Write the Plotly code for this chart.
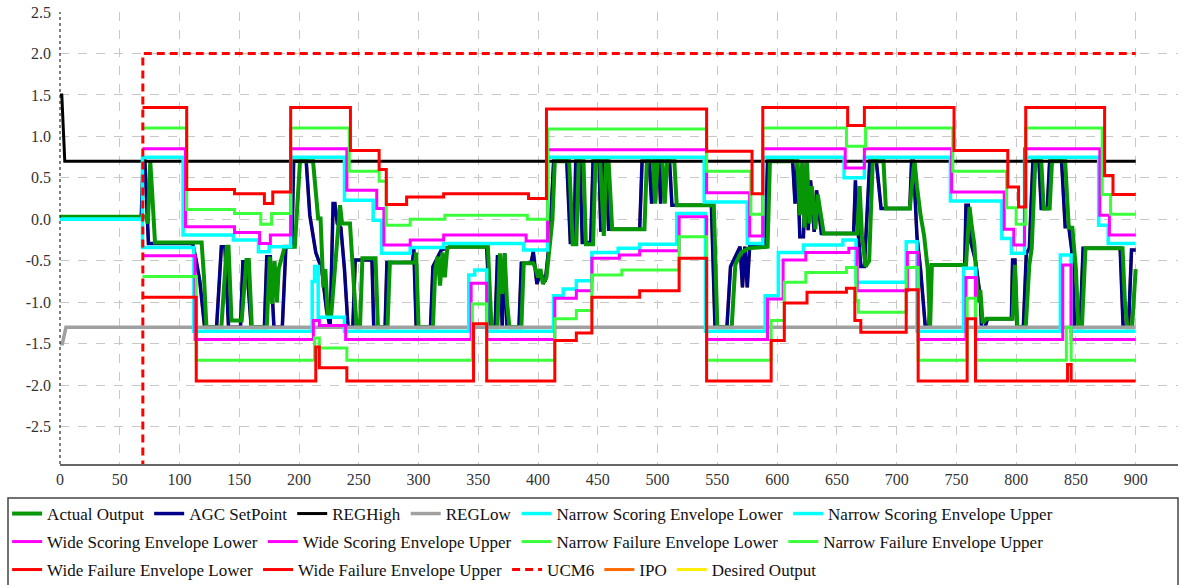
import plotly.graph_objects as go

# ---------------- data ----------------
X_TICKS = list(range(0, 901, 50))
Y_TICKS = [2.5, 2.0, 1.5, 1.0, 0.5, 0.0, -0.5, -1.0, -1.5, -2.0, -2.5]
Y_TICK_TEXT = ["2.5", "2.0", "1.5", "1.0", "0.5", "0.0", "-0.5", "-1.0", "-1.5", "-2.0", "-2.5"]

# AGC SetPoint
SP_X = [0, 68, 69.5, 71, 74, 111, 114, 117, 121, 131, 135, 138, 141, 151, 153, 156, 160, 171, 173, 176,
        179, 186, 189, 194, 195.5, 206, 209, 214, 219, 223, 226, 228.5, 230, 232, 235, 238, 241, 245, 247, 261,
        262.5, 272, 273.5, 295, 296, 298, 310, 312, 319, 326, 357, 360, 364, 366, 368, 370, 372, 374, 384, 386,
        394, 396, 399, 402, 406, 409, 411, 413, 424, 427, 430, 431.5, 435, 437, 444, 446, 451, 452.5, 454, 457,
        459, 485, 487, 493, 495, 497, 501, 502.5, 504, 510, 512, 545, 548, 558, 561, 569, 571, 573, 575, 577,
        590, 592, 613, 615, 617, 619, 622, 624.5, 626, 628, 631, 633, 637, 664, 665.5, 667, 670, 673, 677.5, 683,
        687, 711, 712.5, 714, 717, 720, 724, 727, 729, 757, 758, 760, 762, 766, 770, 771, 774, 776, 796, 797,
        799, 800.5, 806, 808.5, 811, 814, 819, 821, 826, 828, 838, 841, 844, 846.5, 849, 853.5, 856, 887, 889.5, 894,
        896.5, 900]
SP_Y = [0.03, 0.03, 0.70, 0.70, -0.29, -0.29, -0.50, -0.75, -1.30, -1.30, -0.33, -0.33, -1.30, -1.30, -0.51, -0.51, -1.30, -1.30, -0.45, -0.45,
        -1.30, -1.30, -0.33, -0.33, 0.70, 0.70, 0.05, -0.40, -0.60, -1.10, -1.30, 0.19, 0.19, -0.05, -0.10, -0.60, -1.30, -1.30, -0.49, -0.49,
        -1.30, -1.30, -0.52, -0.52, -0.35, -1.30, -1.30, -0.57, -0.37, -0.33, -0.33, -1.30, -1.30, -0.45, -0.45, -1.30, -0.41, -1.30, -1.30, -0.53,
        -0.53, -0.39, -0.78, -0.65, -0.75, -0.33, 0.11, 0.70, 0.70, -0.28, -0.28, 0.70, 0.70, -0.28, -0.28, 0.70, 0.70, -0.15, 0.70, 0.70,
        -0.12, -0.12, 0.70, 0.70, 0.19, 0.70, 0.70, 0.19, 0.70, 0.70, 0.17, 0.17, -1.30, -1.30, -0.57, -0.33, -0.82, -0.33, -0.82, -0.33,
        -0.33, 0.70, 0.70, 0.19, 0.70, -0.21, -0.21, 0.70, -0.13, 0.47, -0.15, 0.35, -0.17, -0.17, 0.47, -0.01, -0.57, -0.57, 0.70, 0.70,
        0.13, 0.13, 0.70, 0.70, -0.21, -0.60, -1.30, -1.30, -0.55, -0.55, 0.17, 0.17, -0.27, -0.50, -0.94, -1.30, -1.30, -1.20, -1.20, -0.49,
        -0.49, -1.30, -1.30, -0.41, -0.35, 0.70, 0.70, 0.13, 0.13, 0.70, 0.70, -0.09, -0.09, -0.37, -1.30, -1.30, -0.35, -0.35, -1.30, -1.30,
        -0.37, -0.37]

# Actual Output
AO_X = [0, 72, 73.5, 75.5, 77, 79.5, 118.5, 120.5, 122.5, 135, 139.5, 141, 143.5, 152, 156, 158, 160.5, 173, 175.5, 177.5,
        179.5, 181.5, 183, 188, 196.5, 200.8, 211.7, 216, 218, 220.3, 222, 224, 227, 234.3, 236, 242.6, 246, 248.2, 251, 253,
        264, 266, 274, 276, 297, 298, 300, 312, 314, 316, 318, 320, 322, 324, 327, 358, 361, 366, 368, 370,
        372, 374, 376, 386, 388, 396, 398, 400, 402, 404, 407, 412, 414, 426, 429, 432, 434, 438, 440, 446,
        448, 452, 455, 457, 459, 462, 489, 491, 496, 498, 500, 504, 506, 508, 514, 516, 547, 550, 562, 565,
        568, 570, 576, 592, 594, 617, 619, 621, 623, 625, 627, 629, 632, 634, 639, 667, 669, 671, 674, 677,
        680, 689, 691, 711, 714, 715, 717, 720, 723, 726, 728, 729.5, 758, 761, 763, 765, 768, 770, 772, 775,
        797, 799, 801, 808, 811, 813, 816, 821, 823, 828, 830, 841, 844, 847, 850, 852, 855, 858, 889, 891,
        893, 897, 900]
AO_Y = [0.03, 0.03, -0.05, 0.70, 0.35, -0.28, -0.28, -0.70, -1.30, -1.30, -0.33, -0.33, -1.22, -1.22, -0.49, -0.49, -1.30, -1.30, -0.45, -1.02,
        -0.50, -1.00, -0.60, -0.33, -0.33, 0.70, 0.70, 0.01, 0.01, -0.82, -0.60, -1.14, -1.14, 0.17, -0.05, -0.05, -0.82, -1.30, -1.30, -0.47,
        -0.47, -1.30, -1.30, -0.52, -0.52, -0.40, -1.30, -1.30, -0.60, -0.45, -0.80, -0.40, -0.70, -0.35, -0.33, -0.33, -1.30, -1.30, -0.41, -0.90,
        -0.41, -1.00, -1.30, -1.30, -0.53, -0.53, -0.60, -0.70, -0.60, -0.78, -0.70, 0.00, 0.70, 0.70, -0.30, -0.30, 0.70, 0.70, -0.30, -0.30,
        0.70, 0.70, -0.20, 0.70, 0.70, -0.12, -0.12, 0.70, 0.70, 0.19, 0.70, 0.70, 0.19, 0.70, 0.70, 0.17, 0.17, -1.30, -1.30, -0.55,
        -0.45, -0.40, -0.35, -0.33, 0.70, 0.70, 0.05, 0.70, -0.10, 0.70, -0.05, 0.40, -0.12, 0.30, -0.17, -0.17, 0.40, -0.20, -0.57, -0.50,
        0.70, 0.70, 0.13, 0.13, 0.60, 0.70, 0.40, 0.05, -0.20, -0.60, -1.30, -0.55, -0.55, 0.15, -0.10, -0.30, -1.00, -0.85, -1.25, -1.20,
        -1.20, -0.55, -1.30, -1.30, -0.55, -0.35, 0.70, 0.70, 0.13, 0.13, 0.70, 0.70, -0.10, -0.10, -0.60, -1.30, -1.30, -0.35, -0.35, -1.00,
        -1.30, -1.30, -0.60]

# Regulation limits
REGH_X = [0, 1.5, 4, 900]
REGH_Y = [1.5, 1.5, 0.7, 0.7]
REGL_X = [0, 2, 5, 900]
REGL_Y = [-1.5, -1.5, -1.3, -1.3]

# UCM6 (below the visible range before it steps up)
UCM_X = [0, 69.3, 69.3, 900]
UCM_Y = [-10.0, -10.0, 2.0, 2.0]

# Narrow scoring envelope (step starts)
NSU_X = [0, 69, 103, 145, 166, 175, 193, 238, 262, 269, 293, 321, 388, 408, 539, 575, 588, 656, 673, 745,
         788, 796, 807, 869, 877, 900]
NSU_Y = [0.00, 0.75, -0.19, -0.25, -0.39, -0.33, 0.75, 0.23, -0.01, -0.41, -0.34, -0.29, -0.37, 0.75, 0.21, -0.29, 0.75, 0.50, 0.75, 0.22,
         -0.23, -0.41, 0.75, -0.07, -0.29, -0.29]
NSL_X = [0, 69, 112, 211, 213, 216, 238, 342, 347, 357, 413, 421, 432, 445, 467, 485, 516, 540, 590, 601,
         622, 655, 666, 708, 717, 756, 766, 837, 846, 900]
NSL_Y = [0.00, -0.34, -1.35, -0.75, -0.57, -1.18, -1.35, -0.67, -0.61, -1.35, -0.92, -0.84, -0.74, -0.40, -0.35, -0.30, 0.07, -1.35, -0.92, -0.40,
         -0.31, -0.25, -0.76, -0.27, -1.35, -0.59, -1.35, -0.43, -1.35, -1.35]

# Wide scoring envelope
WSU_X = [69, 105, 146, 167, 176, 193, 240, 265, 271, 293, 321, 390, 408, 541, 577, 588, 657, 673, 746, 790,
         798, 807, 870, 878, 900]
WSU_Y = [0.85, -0.09, -0.16, -0.29, -0.19, 0.85, 0.35, 0.13, -0.31, -0.25, -0.19, -0.26, 0.84, 0.32, -0.20, 0.85, 0.62, 0.85, 0.33, -0.12,
         -0.31, 0.85, 0.05, -0.19, -0.19]
WSL_X = [69, 113, 212, 217, 239, 344, 357, 414, 432, 445, 468, 485, 518, 541, 592, 605, 624, 660, 667, 709,
         718, 758, 766, 839, 846, 900]
WSL_Y = [-0.44, -1.45, -1.22, -1.28, -1.45, -0.77, -1.45, -0.95, -0.86, -0.47, -0.43, -0.38, 0.03, -1.45, -0.96, -0.49, -0.40, -0.35, -0.86, -0.40,
         -1.45, -0.70, -1.45, -0.55, -1.45, -1.45]

# Narrow failure envelope
NFU_X = [69, 106, 146, 168, 177, 193, 242, 267, 273, 293, 322, 391, 408, 541, 578, 588, 658, 674, 747, 792,
         800, 808, 872, 879, 900]
NFU_Y = [1.10, 0.12, 0.07, -0.06, 0.07, 1.10, 0.58, 0.46, -0.07, 0.00, 0.05, 0.00, 1.09, 0.58, 0.06, 1.10, 0.88, 1.10, 0.58, 0.14,
         -0.06, 1.10, 0.30, 0.06, 0.06]
NFL_X = [69, 114, 213, 217, 240, 345, 357, 414, 432, 445, 470, 518, 541, 595, 606, 624, 658, 666, 668, 708,
         718, 759, 766, 842, 846, 900]
NFL_Y = [-0.69, -1.70, -1.43, -1.55, -1.70, -1.02, -1.70, -1.20, -1.10, -0.67, -0.61, -0.21, -1.70, -1.22, -0.76, -0.64, -0.58, -0.98, -1.12, -0.58,
         -1.70, -0.95, -1.70, -1.30, -1.70, -1.70]

# Wide failure envelope
WFU_X = [69, 106, 146, 171, 178, 193, 243, 267, 273, 290, 321, 392, 407, 541, 579, 588, 659, 673, 748, 793,
         802, 808, 874, 881, 900]
WFU_Y = [1.35, 0.36, 0.31, 0.19, 0.33, 1.35, 0.83, 0.60, 0.18, 0.27, 0.31, 0.25, 1.33, 0.82, 0.31, 1.35, 1.13, 1.35, 0.83, 0.39,
         0.15, 1.35, 0.53, 0.30, 0.30]
WFL_X = [69, 114, 214, 217, 240, 346, 357, 414, 432, 445, 485, 518, 541, 595, 606, 625, 658, 665, 670, 708,
         718, 759, 766, 843, 846, 900]
WFL_Y = [-0.94, -1.95, -1.54, -1.79, -1.95, -1.26, -1.95, -1.46, -1.37, -0.94, -0.86, -0.47, -1.95, -1.46, -1.01, -0.88, -0.83, -1.22, -1.36, -0.85,
         -1.95, -1.20, -1.95, -1.75, -1.95, -1.95]

# ---------------- figure ----------------
FONT = "Liberation Serif"
fig = go.Figure()


def add(name, x, y, color, width, legend, rank, shape="linear", dash="solid"):
    fig.add_trace(go.Scatter(
        x=x, y=y, name=name, mode="lines",
        line=dict(color=color, width=width, shape=shape, dash=dash),
        legend=legend, legendrank=rank, hoverinfo="skip",
    ))


# drawn underneath
add("Desired Output", SP_X, SP_Y, "#FFEE00", 3, "legend3", 15)
add("IPO", SP_X, SP_Y, "#FF6A00", 3, "legend3", 14)
add("AGC SetPoint", SP_X, SP_Y, "#00008B", 3.5, "legend", 2)
add("Actual Output", AO_X, AO_Y, "#069606", 4, "legend", 1)
add("REGHigh", REGH_X, REGH_Y, "#000000", 3, "legend", 3)
add("REGLow", REGL_X, REGL_Y, "#A0A0A0", 3.5, "legend", 4)
add("Narrow Scoring Envelope Lower", NSL_X, NSL_Y, "#00FFFF", 3.5, "legend", 5, "hv")
add("Narrow Scoring Envelope Upper", NSU_X, NSU_Y, "#00FFFF", 3.5, "legend", 6, "hv")
add("Wide Scoring Envelope Lower", WSL_X, WSL_Y, "#FF00FF", 3, "legend2", 7, "hv")
add("Wide Scoring Envelope Upper", WSU_X, WSU_Y, "#FF00FF", 3, "legend2", 8, "hv")
add("Narrow Failure Envelope Lower", NFL_X, NFL_Y, "#3CFF3C", 3, "legend2", 9, "hv")
add("Narrow Failure Envelope Upper", NFU_X, NFU_Y, "#3CFF3C", 3, "legend2", 10, "hv")
add("Wide Failure Envelope Lower", WFL_X, WFL_Y, "#FF0000", 3, "legend3", 11, "hv")
add("Wide Failure Envelope Upper", WFU_X, WFU_Y, "#FF0000", 3, "legend3", 12, "hv")
add("UCM6", UCM_X, UCM_Y, "#FF0000", 3, "legend3", 13, "linear", "8px,5px")

leg_common = dict(orientation="h", xref="container", yref="container",
                  xanchor="left", yanchor="middle", x=0.006,
                  bgcolor="rgba(0,0,0,0)", borderwidth=0,
                  font=dict(family=FONT, size=17, color="#111111"),
                  traceorder="normal")

fig.update_layout(
    width=1184, height=585,
    margin=dict(l=60, r=6, t=12, b=121, autoexpand=False),
    paper_bgcolor="white", plot_bgcolor="white",
    font=dict(family=FONT, size=16, color="#333333"),
    showlegend=True,
    legend=dict(leg_common, y=1 - 514 / 585),
    legend2=dict(leg_common, y=1 - 542 / 585),
    legend3=dict(leg_common, y=1 - 570 / 585),
    xaxis=dict(range=[0, 935.4], tickvals=X_TICKS, showgrid=True, gridcolor="#c8c8c8",
               griddash="dash", gridwidth=1, zeroline=False, showline=True,
               linecolor="#666666", linewidth=2, ticks="",
               tickfont=dict(family=FONT, size=16, color="#333333")),
    yaxis=dict(range=[-2.95, 2.5], tickvals=Y_TICKS, ticktext=Y_TICK_TEXT, showgrid=True,
               gridcolor="#c8c8c8", griddash="dash", gridwidth=1, zeroline=False,
               showline=False, ticks="", ticklabelstandoff=8,
               tickfont=dict(family=FONT, size=16, color="#333333")),
    shapes=[
        dict(type="line", xref="paper", yref="paper", x0=0, x1=0, y0=0, y1=1,
             line=dict(color="#000000", width=1, dash="dot"), layer="above"),
        dict(type="rect", xref="paper", yref="paper", x0=-52 / 1118, x1=1.0,
             y0=(464 - 498) / 452, y1=(464 - 600) / 452,
             line=dict(color="#444444", width=1.5), fillcolor="rgba(0,0,0,0)"),
    ],
)

fig.write_html("out.html",
               config={"displayModeBar": False, "staticPlot": True},
               post_script="document.body.style.margin='0';document.body.style.padding='0';")
